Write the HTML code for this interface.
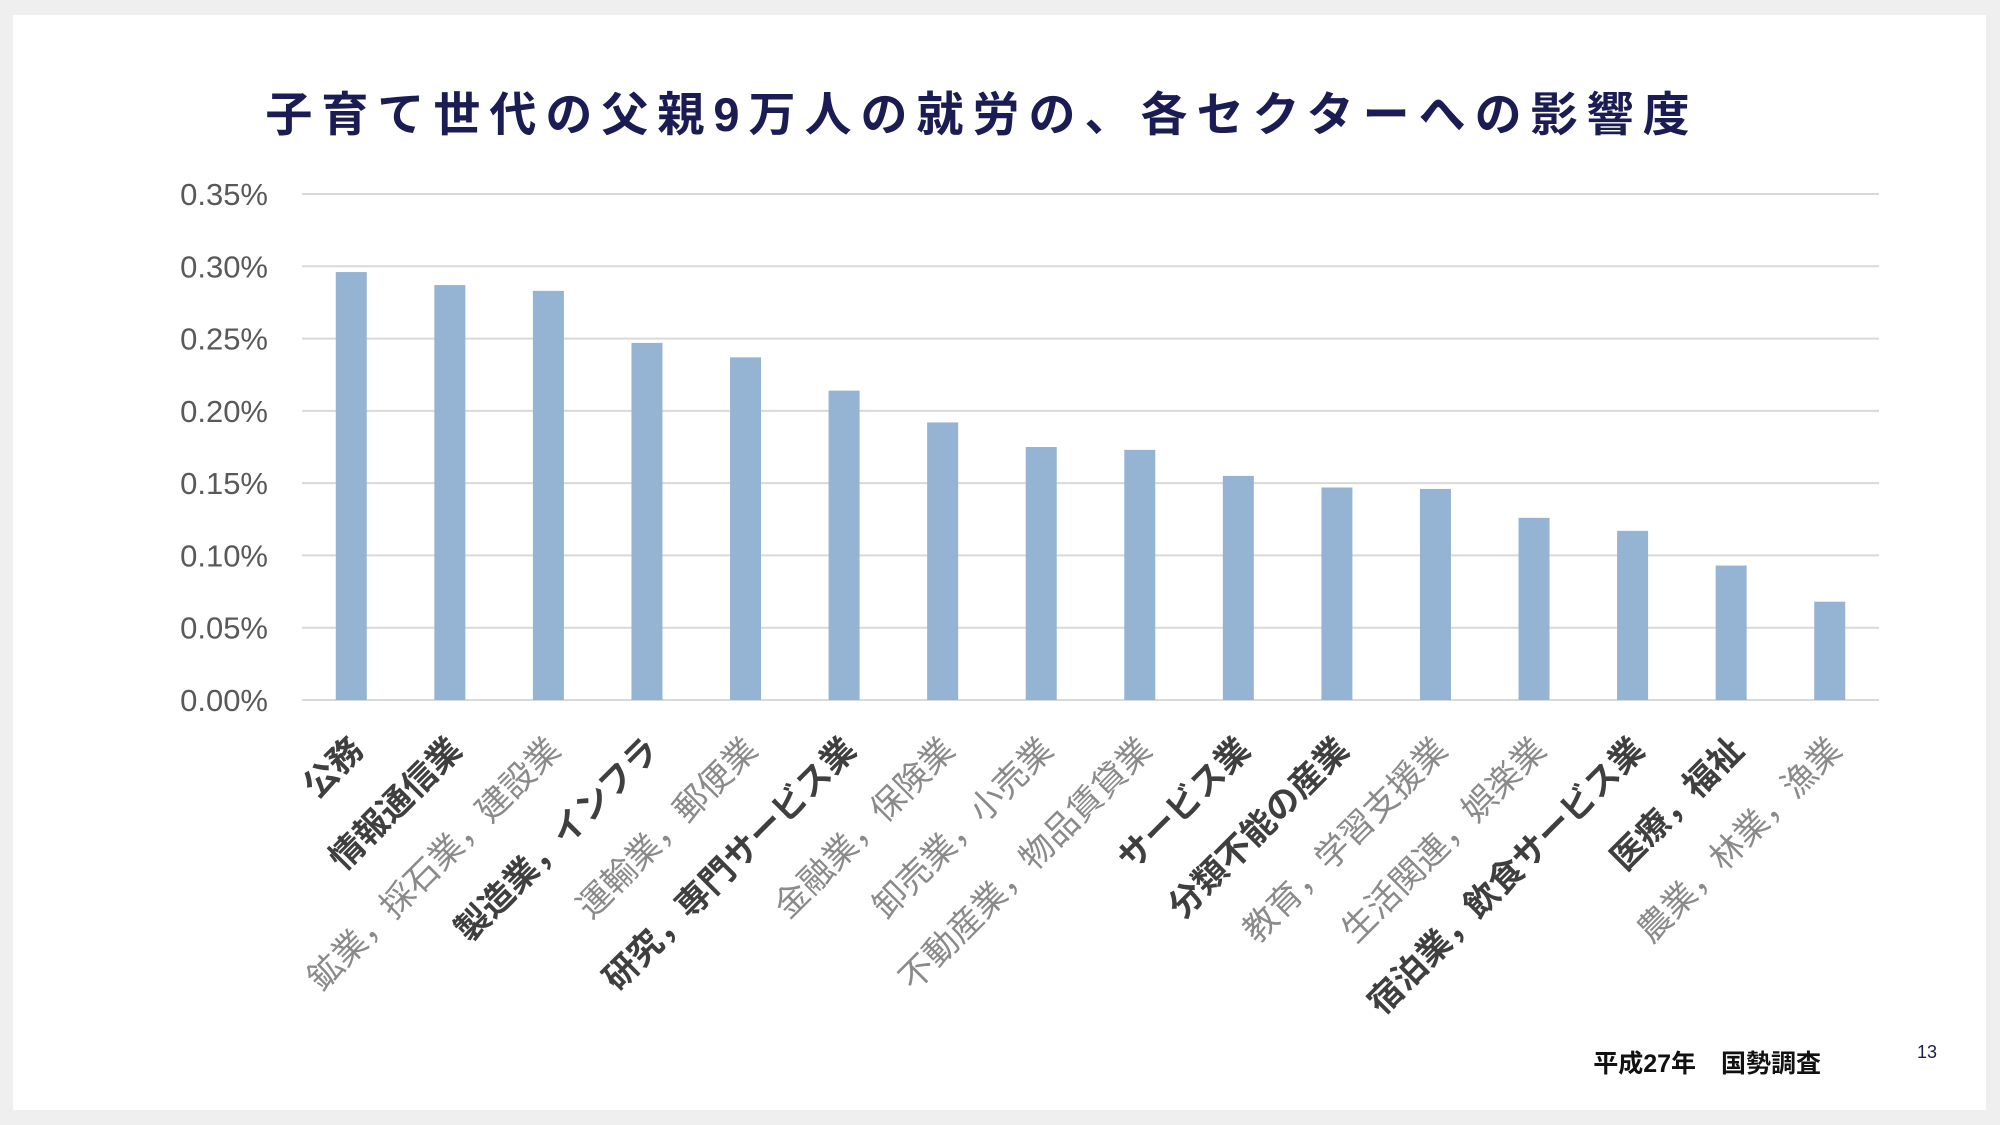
<!DOCTYPE html>
<html><head><meta charset="utf-8"><style>
body{margin:0;background:#efefef;width:2000px;height:1125px;overflow:hidden;font-family:"Liberation Sans","Noto Sans CJK JP",sans-serif}
#card{position:absolute;left:13px;top:15px;width:1973px;height:1095px;background:#fff}
</style></head><body>
<div id="card"></div>
<svg width="2000" height="1125" style="position:absolute;left:0;top:0">
<text x="982" y="131" text-anchor="middle" font-size="47" font-weight="bold" fill="#1c1c55" letter-spacing="9" font-family="Liberation Sans, Noto Sans CJK JP, sans-serif">子育て世代の父親9万人の就労の、各セクターへの影響度</text>
<g id="grid"></g><g id="bars"></g><g id="xl"></g>
<text x="1821" y="1072" text-anchor="end" font-size="25" font-weight="bold" fill="#111" font-family="Liberation Sans, Noto Sans CJK JP, sans-serif">平成27年　国勢調査</text>
<text x="1917" y="1058" font-size="18" fill="#1c1c55">13</text>
</svg>
<script>
const categories=["公務","情報通信業","鉱業，採石業，建設業","製造業，インフラ","運輸業，郵便業","研究，専門サービス業","金融業，保険業","卸売業，小売業","不動産業，物品賃貸業","サービス業","分類不能の産業","教育，学習支援業","生活関連，娯楽業","宿泊業，飲食サービス業","医療，福祉","農業，林業，漁業"];
const boldFlags=[1,1,0,1,0,1,0,0,0,1,1,0,0,1,1,0];
const values=[0.296,0.287,0.283,0.247,0.237,0.214,0.192,0.175,0.173,0.155,0.147,0.146,0.126,0.117,0.093,0.068];
const ticks=[0,0.05,0.10,0.15,0.20,0.25,0.30,0.35];
const tickLabels=["0.00%","0.05%","0.10%","0.15%","0.20%","0.25%","0.30%","0.35%"];
const NS="http://www.w3.org/2000/svg";
const L=302,R=1879,T=194,B=700,maxV=0.35;
const y=v=>B-(v/maxV)*(B-T);
const band=(R-L)/categories.length;
const xc=i=>L+band*(i+0.5);
function mk(tag,attrs,parent){const e=document.createElementNS(NS,tag);for(const k in attrs)e.setAttribute(k,attrs[k]);document.getElementById(parent).appendChild(e);return e;}
ticks.forEach((t,i)=>{
  const ln=mk('line',{x1:L,x2:R,y1:y(t),y2:y(t),stroke:'#d9d9d9','stroke-width':2},'grid');
  
  
  const tx=mk('text',{x:268,y:y(t)+11,'text-anchor':'end','font-size':31,fill:'#595959'},'grid');
  tx.textContent=tickLabels[i];
  
  
});
values.forEach((v,i)=>{
  const r=mk('rect',{x:xc(i)-15.5,y:y(v),width:31,height:B-y(v),fill:'#95b3d3'},'bars');
  
  
});
categories.forEach((c,i)=>{
  const ax=xc(i)+14, ay=752;
  const t=mk('text',{x:ax,y:ay,'text-anchor':'end','font-size':34,'font-weight':boldFlags[i]?'bold':'normal',fill:boldFlags[i]?'#3f3f3f':'#8a8a8a',transform:`rotate(-45 ${ax} ${ay})`},'xl');
  t.textContent=c;
  
  
});
</script>
</body></html>
